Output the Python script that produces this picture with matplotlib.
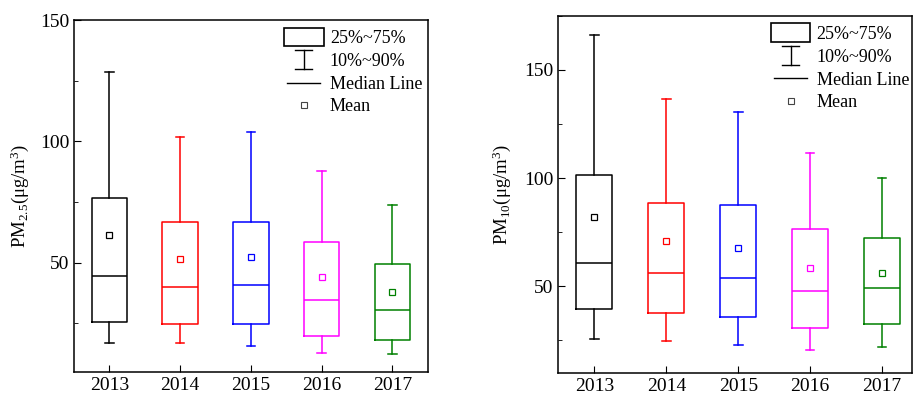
import matplotlib
matplotlib.use("Agg")
import matplotlib.pyplot as plt
from matplotlib.patches import Rectangle
from matplotlib.lines import Line2D
from matplotlib.legend_handler import HandlerBase
from matplotlib.ticker import MultipleLocator

plt.rcParams['font.family'] = ['Liberation Serif', 'DejaVu Serif']
plt.rcParams['mathtext.fontset'] = 'custom'
plt.rcParams['mathtext.rm'] = 'Liberation Serif'
plt.rcParams['mathtext.it'] = 'Liberation Serif:italic'

years = ['2013', '2014', '2015', '2016', '2017']
colors = ['black', 'red', 'blue', 'magenta', 'green']

# PM2.5 percentiles
pm25_p10 = [16.8, 16.8, 15.7, 12.6, 12.4]
pm25_q1 = [25.5, 24.7, 24.7, 19.8, 18.0]
pm25_med = [44.6, 39.8, 40.8, 34.6, 30.5]
pm25_q3 = [76.6, 66.6, 66.6, 58.5, 49.6]
pm25_p90 = [128.8, 101.8, 103.8, 87.8, 73.6]
pm25_mean = [61.3, 51.4, 52.5, 44.2, 38.0]

# PM10
pm10_p10 = [25.6, 24.5, 22.8, 20.5, 21.7]
pm10_q1 = [39.6, 37.6, 35.6, 30.5, 32.5]
pm10_med = [60.5, 56.2, 53.7, 47.7, 49.1]
pm10_q3 = [101.6, 88.6, 87.6, 76.4, 72.4]
pm10_p90 = [166.2, 136.7, 130.7, 111.7, 99.8]
pm10_mean = [82.0, 70.7, 67.8, 58.3, 56.2]


class WhiskerHandler(HandlerBase):
    def create_artists(self, legend, orig, xd, yd, w, h, fs, trans):
        cx = -xd + w / 2
        y0, y1 = -yd - 1, -yd + h + 1
        cw = 6
        return [Line2D([cx, cx], [y0, y1], color='black', lw=1.0, transform=trans),
                Line2D([cx - cw, cx + cw], [y1, y1], color='black', lw=1.0, transform=trans),
                Line2D([cx - cw, cx + cw], [y0, y0], color='black', lw=1.0, transform=trans)]


class MedianHandler(HandlerBase):
    def create_artists(self, legend, orig, xd, yd, w, h, fs, trans):
        cx = -xd + w / 2
        y = -yd + h / 2
        return [Line2D([cx - 12, cx + 12], [y, y], color='black', lw=1.0, transform=trans)]


class MeanHandler(HandlerBase):
    def create_artists(self, legend, orig, xd, yd, w, h, fs, trans):
        return [Line2D([-xd + w / 2], [-yd + h / 2], marker='s', ms=4.5, mfc='none',
                       mec='#444444', mew=0.8, ls='none', transform=trans)]


class BoxHandler(HandlerBase):
    def create_artists(self, legend, orig, xd, yd, w, h, fs, trans):
        return [Rectangle((-xd, -yd - 1), w, h + 2, fill=False, ec='black', lw=1.2, transform=trans)]


class Whisk: pass
class Med: pass
class Mn: pass
class Bx: pass


def draw(ax, p10, q1, med, q3, p90, mean, ylim, label, anchor, labelx):
    stats = []
    for i in range(len(years)):
        stats.append(dict(whislo=p10[i], q1=q1[i], med=med[i], q3=q3[i],
                          whishi=p90[i], mean=mean[i], fliers=[]))
    for i, c in enumerate(colors):
        ax.bxp([stats[i]], positions=[i + 1], widths=0.5, showmeans=True,
               capwidths=[0.12],
               boxprops=dict(color=c, lw=1.1),
               whiskerprops=dict(color=c, lw=1.1),
               capprops=dict(color=c, lw=1.1),
               medianprops=dict(color=c, lw=1.1),
               meanprops=dict(marker='s', ms=5, mfc='none', mec=c, mew=0.9))
    ax.set_ylim(*ylim)
    ax.set_xticks(range(1, len(years) + 1))
    ax.set_xticklabels(years)
    ax.yaxis.set_major_locator(MultipleLocator(50))
    ax.yaxis.set_minor_locator(MultipleLocator(25))
    ax.tick_params(axis='both', which='major', direction='in', length=5, labelsize=14)
    ax.tick_params(axis='y', which='minor', direction='in', length=3)
    ax.tick_params(axis='x', pad=4)
    ax.set_ylabel(label, fontsize=13.5)
    ax.yaxis.set_label_coords(labelx, 0.5)
    for s in ax.spines.values():
        s.set_linewidth(1.1)
    ax.legend([Bx(), Whisk(), Med(), Mn()],
              ['25%~75%', '10%~90%', 'Median Line', 'Mean'],
              handler_map={Bx: BoxHandler(), Whisk: WhiskerHandler(),
                           Med: MedianHandler(), Mn: MeanHandler()},
              loc='upper left', bbox_to_anchor=anchor, frameon=False,
              fontsize=13, handlelength=2.2, handleheight=1.0,
              handletextpad=0.35, labelspacing=0.25, borderpad=0, borderaxespad=0)


fig = plt.figure(figsize=(9.14, 3.94), dpi=100)
ax1 = fig.add_axes([0.081, 0.056, 0.387, 0.893])
ax2 = fig.add_axes([0.611, 0.054, 0.387, 0.906])

draw(ax1, pm25_p10, pm25_q1, pm25_med, pm25_q3, pm25_p90, pm25_mean,
     (5, 150), 'PM$_{2.5}$(μg/m$^{3}$)', (0.593, 0.975), -0.121)
ax1.set_xlim(0.5, 5.5)
draw(ax2, pm10_p10, pm10_q1, pm10_med, pm10_q3, pm10_p90, pm10_mean,
     (10, 175), 'PM$_{10}$(μg/m$^{3}$)', (0.600, 0.975), -0.128)
ax2.set_xlim(0.5, 5.42)

fig.savefig('out.png', dpi=100)
